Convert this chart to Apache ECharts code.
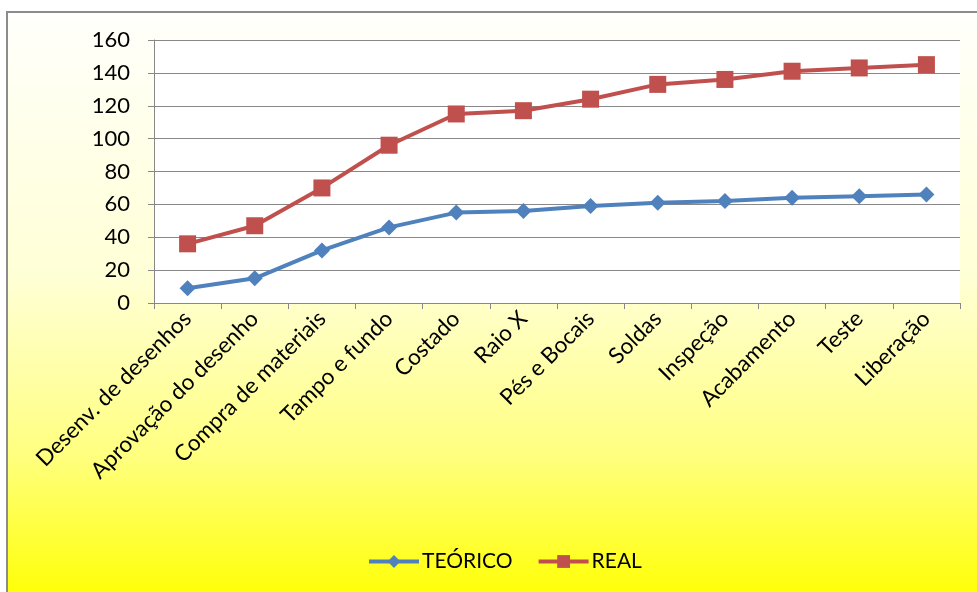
<!DOCTYPE html>
<html><head><meta charset="utf-8">
<script src="https://cdn.jsdelivr.net/npm/echarts@6/dist/echarts.min.js"></script>
<style>html,body{margin:0;padding:0;background:#fff}#c{width:977px;height:592px}</style>
</head><body><div id="c"></div>
<script>
var categories = ['Desenv. de desenhos','Aprovação do desenho','Compra de materiais','Tampo e fundo','Costado','Raio X','Pés e Bocais','Soldas','Inspeção','Acabamento','Teste','Liberação'];
var teorico = [9, 15, 32, 46, 55, 56, 59, 61, 62, 64, 65, 66];
var real = [36, 47, 70, 96, 115, 117, 124, 133, 136, 141, 143, 145];
var yTicks = {min: 0, max: 160, interval: 20};

var chart = echarts.init(document.getElementById('c'));
var font = 'Lato, "Open Sans", "Liberation Sans", sans-serif';
chart.setOption({
  animation: false,
  backgroundColor: '#ffffff',
  graphic: [{
    type: 'rect', z: -10, silent: true,
    shape: {x: 7, y: 12, width: 980, height: 590},
    style: {
      fill: new echarts.graphic.LinearGradient(0, 0, 0, 1, [
        {offset: 0, color: '#FFFFFC'},
        {offset: 0.45, color: '#FFFFD6'},
        {offset: 0.75, color: '#FFFF80'},
        {offset: 1, color: '#FFFF00'}
      ]),
      stroke: '#8c8c8c', lineWidth: 2
    }
  }],
  grid: {left: 154, right: 17, top: 40, bottom: 289, show: true, backgroundColor: '#ffffff', borderWidth: 0},
  legend: {
    top: 546, left: 362, itemGap: 24, itemWidth: 50, itemHeight: 16,
    lineStyle: {width: 4},
    textStyle: {fontFamily: font, fontSize: 21, color: '#000', padding: [0, 0, 0, -2]},
    data: ['TEÓRICO', 'REAL']
  },
  xAxis: {
    type: 'category', data: categories, boundaryGap: true,
    axisLine: {lineStyle: {color: '#888', width: 1}},
    axisTick: {show: true, length: 6, lineStyle: {color: '#888'}},
    axisLabel: {rotate: 45, fontFamily: font, fontSize: 22.5, color: '#000', interval: 0, margin: 12}
  },
  yAxis: {
    type: 'value', min: yTicks.min, max: yTicks.max, interval: yTicks.interval,
    axisLine: {show: true, lineStyle: {color: '#888', width: 1}},
    axisTick: {show: true, length: 6, lineStyle: {color: '#888'}},
    splitLine: {lineStyle: {color: '#888', width: 1}},
    axisLabel: {fontFamily: font, fontSize: 22, color: '#000', margin: 24}
  },
  series: [
    {name: 'TEÓRICO', type: 'line', data: teorico, symbol: 'diamond', symbolSize: 16,
     itemStyle: {color: '#4F81BD'}, lineStyle: {color: '#4F81BD', width: 4}},
    {name: 'REAL', type: 'line', data: real, symbol: 'rect', symbolSize: 17,
     itemStyle: {color: '#C0504D'}, lineStyle: {color: '#C0504D', width: 4}}
  ]
});
</script></body></html>
